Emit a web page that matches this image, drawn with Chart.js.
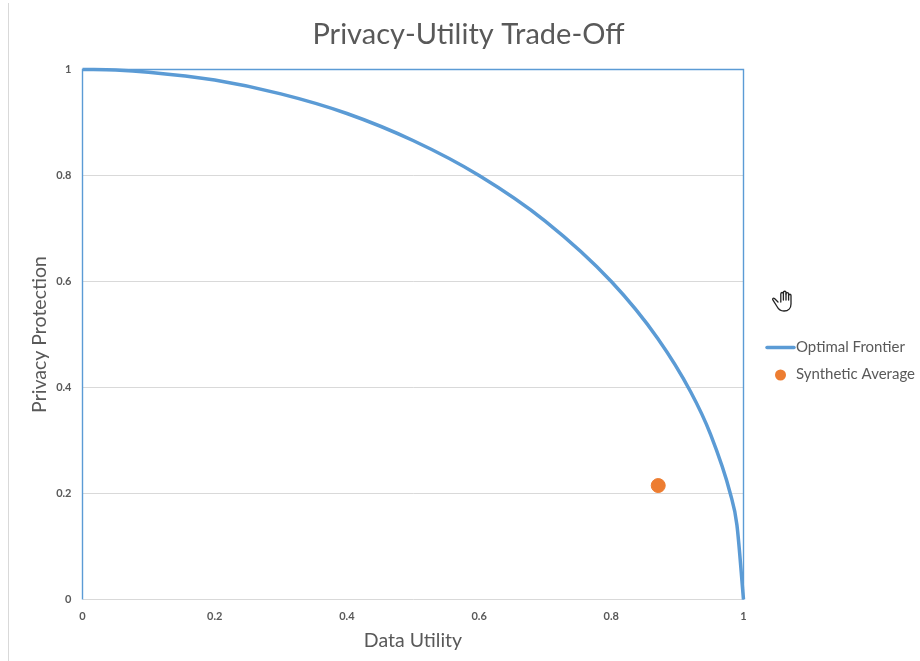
<!DOCTYPE html>
<html>
<head>
<meta charset="utf-8">
<title>Privacy-Utility Trade-Off</title>
<script src="https://cdn.jsdelivr.net/npm/chart.js@4/dist/chart.umd.min.js"></script>
<style>
  html, body { margin: 0; padding: 0; background: #fff; }
  #wrap { position: relative; width: 920px; height: 661px; overflow: hidden; }
  #chart { position: absolute; left: 8px; top: 0; }
  #leftRule { position: absolute; left: 8px; top: 3px; bottom: 0; width: 1px; background: #d9d9d9; }
  #hand { position: absolute; left: 771px; top: 288px; }
</style>
</head>
<body>
<div id="wrap">
  <canvas id="chart" width="921" height="661"></canvas>
  <div id="leftRule"></div>
  <!-- mouse cursor captured in the screenshot -->
  <svg id="hand" width="24" height="25" viewBox="0 0 24 25" fill="#fff" stroke="#222" stroke-width="1.3" stroke-linejoin="round" stroke-linecap="round">
    <path d="M7 14 L3.5 10.5 C2.3 9.6 1 10.8 2 12.2 L6 18.5 C7.5 21.5 10 23 13 23 C17.5 23 20 20 20 16 L20 7.5 C20 5.8 17.6 5.8 17.6 7.5 L17.6 6 C17.6 4.2 15 4.2 15 6 L15 4.5 C15 2.8 12.4 2.8 12.4 4.5 L12.4 5.5 C12.2 4 9.8 4.2 9.8 6 L9.8 14"/>
    <path d="M12.4 5 L12.4 12 M15 6 L15 12 M17.6 7 L17.6 12"/>
  </svg>
</div>
<script>
const chartTitle = 'Privacy-Utility Trade-Off';
const xAxisTitle = 'Data Utility';
const yAxisTitle = 'Privacy Protection';
const frontierLabel = 'Optimal Frontier';
const averageLabel = 'Synthetic Average';

const frontierX = [0, 0.05, 0.1, 0.2, 0.3, 0.4, 0.5, 0.6, 0.7, 0.8, 0.87, 0.92, 0.95, 0.98, 0.99, 1];
const frontierY = [1, 0.999, 0.995, 0.98, 0.954, 0.917, 0.866, 0.8, 0.714, 0.6, 0.493, 0.392, 0.312, 0.2, 0.141, 0];
const averageX = [0.871];
const averageY = [0.215];
const tickValues = [0, 0.2, 0.4, 0.6, 0.8, 1];

const blue = '#5b9bd5';
const orange = '#ed7d31';
const grey = '#595959';
const font = 'Lato, "Noto Sans", sans-serif';

function toPoints(xs, ys) {
  return xs.map((x, i) => ({ x: x, y: ys[i] }));
}

function axis(title, tickPad, titlePad, showGrid, fit) {
  return {
    type: 'linear',
    min: 0,
    max: 1,
    afterBuildTicks: scale => { scale.ticks = tickValues.map(v => ({ value: v })); },
    afterFit: fit,
    grid: { display: showGrid, color: '#d9d9d9', lineWidth: 1, drawTicks: false },
    border: { display: false },
    ticks: {
      color: grey,
      padding: tickPad,
      font: { family: font, size: 11, weight: 'bold' },
      maxRotation: 0,
      callback: v => String(v)
    },
    title: {
      display: true,
      text: title,
      color: grey,
      font: { family: font, size: 19.5 },
      padding: titlePad
    }
  };
}

// blue frame of the plot area, drawn under the curve
const plotFrame = {
  id: 'plotFrame',
  beforeDatasetsDraw(c) {
    const a = c.chartArea;
    const g = c.ctx;
    g.save();
    g.strokeStyle = blue;
    g.lineWidth = 1.4;
    g.beginPath();
    g.moveTo(a.left, a.bottom);
    g.lineTo(a.left, a.top);
    g.lineTo(a.right, a.top);
    g.lineTo(a.right, a.bottom);
    g.stroke();
    g.restore();
  }
};

// legend sits next to the plot, so it is placed by hand
const sideLegend = {
  id: 'sideLegend',
  afterDraw(c) {
    const g = c.ctx;
    g.save();
    g.font = '15px ' + font;
    g.fillStyle = grey;
    g.textBaseline = 'middle';
    g.fillText(frontierLabel, 788, 347.5);
    g.fillText(averageLabel, 788, 374.5);
    g.strokeStyle = blue;
    g.lineWidth = 3.5;
    g.lineCap = 'round';
    g.beginPath();
    g.moveTo(759, 347.5);
    g.lineTo(786, 347.5);
    g.stroke();
    g.fillStyle = orange;
    g.beginPath();
    g.arc(772.5, 375, 5.5, 0, Math.PI * 2);
    g.fill();
    g.restore();
  }
};

new Chart(document.getElementById('chart').getContext('2d'), {
  type: 'scatter',
  data: {
    datasets: [
      {
        label: frontierLabel,
        data: toPoints(frontierX, frontierY),
        showLine: true,
        borderColor: blue,
        borderWidth: 3.5,
        pointRadius: 0,
        cubicInterpolationMode: 'monotone',
        clip: false
      },
      {
        label: averageLabel,
        data: toPoints(averageX, averageY),
        showLine: false,
        backgroundColor: orange,
        borderColor: orange,
        pointRadius: 7,
        clip: false
      }
    ]
  },
  options: {
    responsive: false,
    animation: false,
    scales: {
      x: axis(xAxisTitle, 10, 9, false, s => { s.height = 61.5; }),
      y: axis(yAxisTitle, 11, 20, true, s => { s.width = 74.5; }),
      // empty axis keeps room for the legend, the title stays centred on the whole chart
      spacer: {
        position: 'right',
        grid: { display: false },
        border: { display: false },
        ticks: { display: false },
        afterFit: s => { s.width = 185.5; }
      }
    },
    plugins: {
      legend: { display: false },
      tooltip: { enabled: false },
      title: {
        display: true,
        text: chartTitle,
        color: grey,
        font: { family: font, size: 29, weight: 'normal' },
        padding: { top: 17.6, bottom: 17.1 }
      }
    }
  },
  plugins: [plotFrame, sideLegend]
});
</script>
</body>
</html>
